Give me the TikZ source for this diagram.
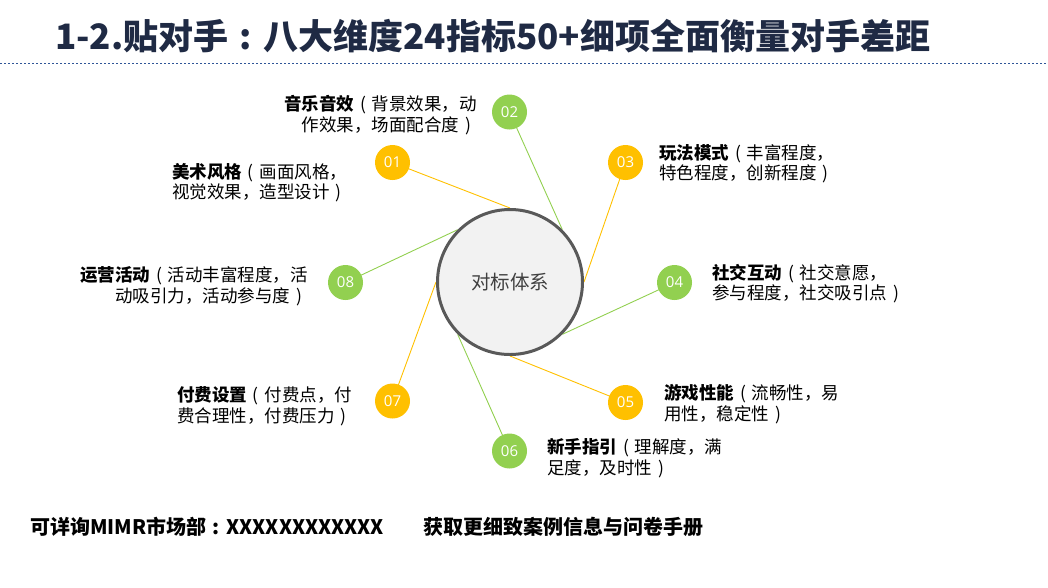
\documentclass[tikz,border=0pt]{standalone}
\usepackage{fontspec}
\setmainfont{Noto Sans CJK SC}
\newfontfamily\numfont{Open Sans}
\usetikzlibrary{backgrounds}
\definecolor{cyel}{HTML}{FFC000}
\definecolor{cgrn}{HTML}{92D050}
\definecolor{ctitle}{HTML}{1F2A44}
\definecolor{cdash}{HTML}{2F5597}
\definecolor{cring}{HTML}{595959}
\definecolor{cfill}{HTML}{F2F2F2}
\definecolor{ctext}{HTML}{404040}
\newcommand\lpar{\makebox[1em]{(}}
\newcommand\rpar{\makebox[1em]{)}}
\newcommand\fcolon{\makebox[1em]{:}}
\begin{document}
\begin{tikzpicture}[x=1pt,y=-1pt,
  num/.style={circle,minimum size=35pt,inner sep=0pt,text=white,font=\numfont\fontsize{15}{15}\selectfont},
  ynum/.style={num,fill=cyel},
  gnum/.style={num,fill=cgrn},
  yline/.style={draw=cyel,line width=0.9pt},
  gline/.style={draw=cgrn,line width=0.9pt},
  lbl/.style={inner sep=0pt,font=\fontsize{17.5}{20.5}\selectfont},
  foot/.style={anchor=west,inner sep=0pt,font=\bfseries\fontsize{20}{20}\selectfont}
]
\useasboundingbox (0,0) rectangle (1048,587);

\node[anchor=west,inner sep=0pt,text=ctitle,font=\bfseries\fontsize{35}{35}\selectfont] (title) at (55,36) {1-2.贴对手\fcolon 八大维度24指标50+细项全面衡量对手差距};
\draw[cdash,dash pattern=on 2pt off 2pt,line width=1pt] (0,63) -- (1048,63);

\node[circle,minimum size=145pt,inner sep=0pt,fill=cfill,draw=cring,line width=3pt,text=ctext,font=\fontsize{19.5}{19.5}\selectfont] (c) at (510,282) {对标体系};

\node[ynum] (n1) at (392.5,162.5) {01};
\node[gnum] (n2) at (509.5,112) {02};
\node[ynum] (n3) at (625.5,162.5) {03};
\node[gnum] (n4) at (674.5,282.5) {04};
\node[ynum] (n5) at (625.5,402.5) {05};
\node[gnum] (n6) at (509.5,451) {06};
\node[ynum] (n7) at (392.5,401) {07};
\node[gnum] (n8) at (345.5,282.5) {08};

\begin{scope}[on background layer]
\draw[yline] (n1.center) -- (c.90);
\draw[gline] (n2.center) -- (c.45);
\draw[yline] (n3.center) -- (c.0);
\draw[gline] (n4.center) -- (c.-45);
\draw[yline] (n5.center) -- (c.-90);
\draw[gline] (n6.center) -- (c.-135);
\draw[yline] (n7.center) -- (c.180);
\draw[gline] (n8.center) -- (c.135);
\end{scope}

\node[lbl,anchor=base west,align=left] (l1) at (172,198.5) {\textbf{美术风格}\lpar 画面风格，\\视觉效果，造型设计\rpar};
\node[lbl,anchor=base east,align=right] (l2) at (477,131) {\textbf{音乐音效}\lpar 背景效果，动\\作效果，场面配合度\rpar};
\node[lbl,anchor=base west,align=left] (l3) at (659,179.5) {\textbf{玩法模式}\lpar 丰富程度，\\特色程度，创新程度\rpar};
\node[lbl,anchor=base west,align=left] (l4) at (712,299.5) {\textbf{社交互动}\lpar 社交意愿，\\参与程度，社交吸引点\rpar};
\node[lbl,anchor=base west,align=left] (l5) at (664,420) {\textbf{游戏性能}\lpar 流畅性，易\\用性，稳定性\rpar};
\node[lbl,anchor=base west,align=left] (l6) at (547,474) {\textbf{新手指引}\lpar 理解度，满\\足度，及时性\rpar};
\node[lbl,anchor=base west,align=left] (l7) at (177,422) {\textbf{付费设置}\lpar 付费点，付\\费合理性，付费压力\rpar};
\node[lbl,anchor=base east,align=right] (l8) at (308,302) {\textbf{运营活动}\lpar 活动丰富程度，活\\动吸引力，活动参与度\rpar};

\node[foot] (f1) at (30,527) {可详询MIMR市场部\fcolon XXXXXXXXXXXX};
\node[foot] (f2) at (423,527) {获取更细致案例信息与问卷手册};
\end{tikzpicture}
\end{document}
